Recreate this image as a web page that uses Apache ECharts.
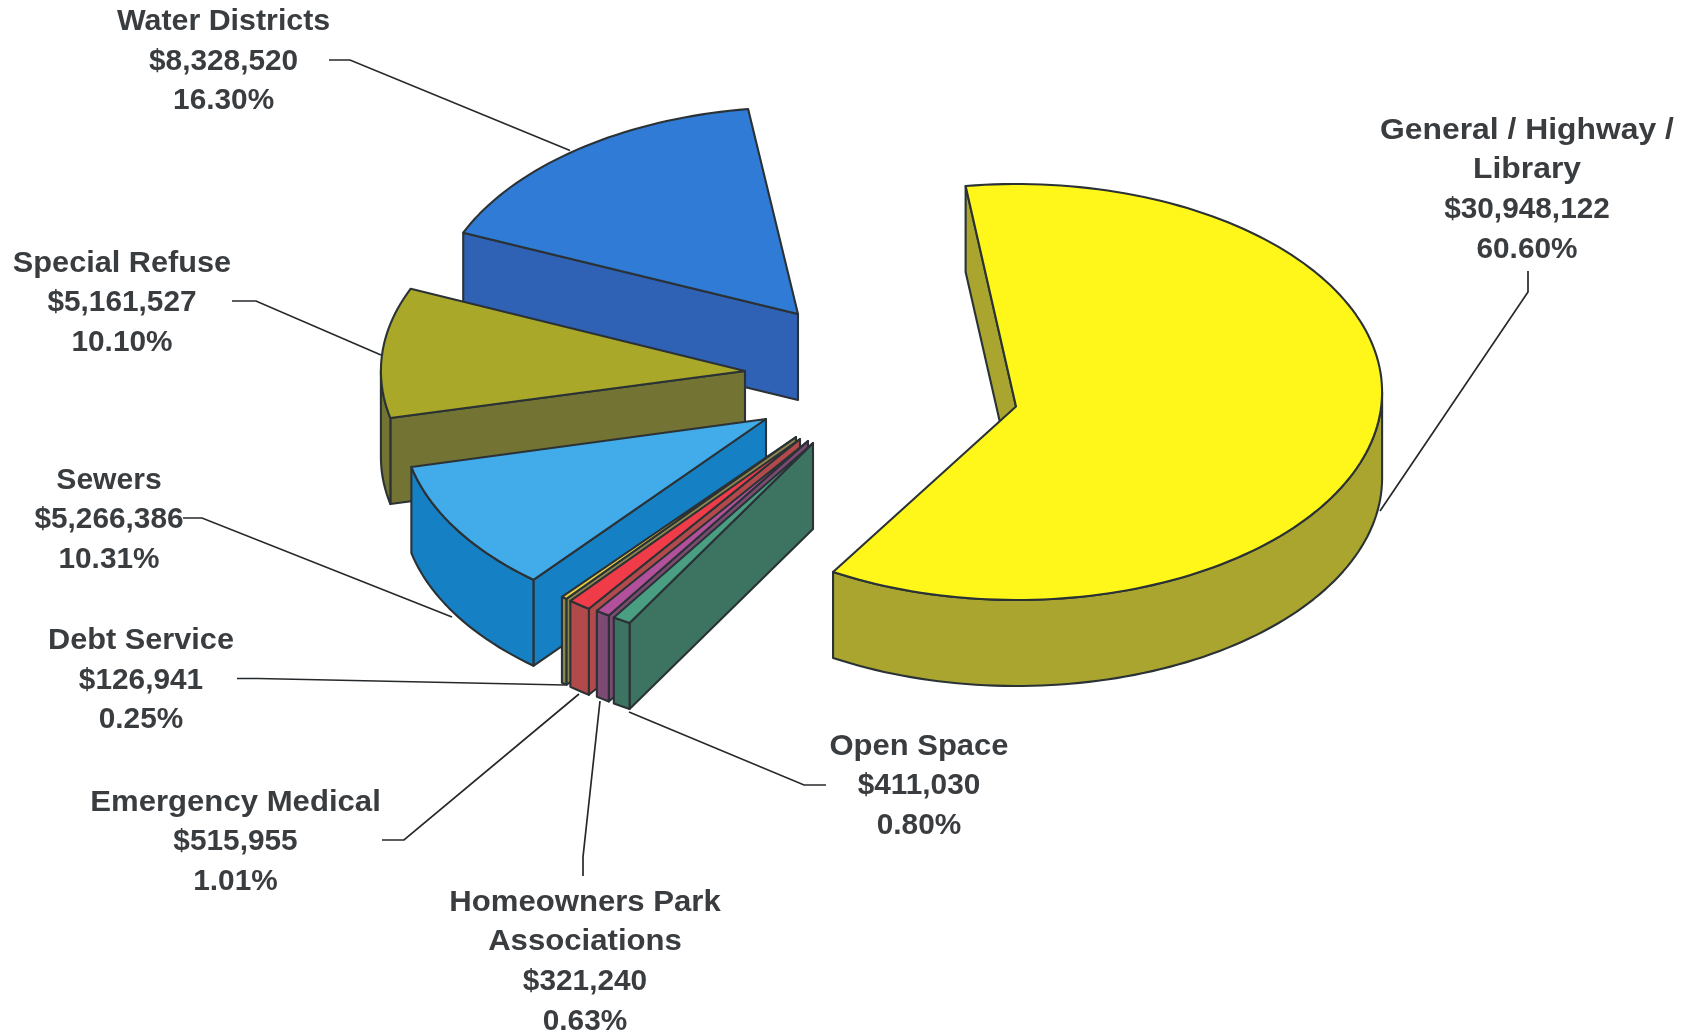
<!DOCTYPE html>
<html>
<head>
<meta charset="utf-8">
<style>html,body{margin:0;padding:0;background:#fff}#chart{width:1686px;height:1033px}</style>
<script src="https://cdn.jsdelivr.net/npm/echarts@6/dist/echarts.min.js"></script>
</head>
<body>
<div id="chart"></div>
<script>
// Budget shares by fund, clockwise from the largest slice.
const categories = ['General / Highway /\nLibrary', 'Open Space', 'Homeowners Park\nAssociations',
  'Emergency Medical', 'Debt Service', 'Sewers', 'Special Refuse', 'Water Districts'];
const amounts = [30948122, 411030, 321240, 515955, 126941, 5266386, 5161527, 8328520];
const percents = ['60.60%', '0.80%', '0.63%', '1.01%', '0.25%', '10.31%', '10.10%', '16.30%'];

// Colours: top face, then the darker side wall.
const topColors = ['#FFF71A', '#4A9F82', '#B2509C', '#F03C48', '#E8D040', '#42ABEA', '#A9A828', '#2F7BD6'];
const wallColors = ['#A9A52E', '#3C7361', '#7C4A72', '#B24A4C', '#8C8850', '#1580C4', '#737334', '#2F62B4'];

// Pie projection: ellipse radii, extrusion depth and the angle of the first slice.
const RX = 365.6, RY = 208, DEPTH = 86, START_DEG = -8;
// Exploded position of each slice: centre of its ellipse and its inner point.
const centres = [[1016.5, 392], [813, 443], [808, 441], [800, 439], [796, 437], [767.5, 420], [746.5, 371], [799, 315]];
const hubs = [[1016, 406.5], [813, 443], [808, 441], [800, 439], [796, 437], [766, 419], [745, 371], [798, 314]];
// Label anchor (centre of the text block), horizontal stretch of the name
// lines, and leader polyline for each slice.
const labelAnchors = [[1527, 190], [919, 786], [585, 962], [235.5, 842], [141, 680.5], [109, 520], [122, 303], [223.6, 61.5]];
const nameStretch = [1.08, 1.05, 1.055, 1.055, 1.04, 1.02, 1.04, 1.03];
const leaders = [
  [[1528, 271], [1528, 292], [1380, 511]],
  [[826, 785], [804, 785], [629, 712]],
  [[583, 876], [583, 857], [600, 701]],
  [[382, 840], [404, 840], [579, 694]],
  [[237, 678.5], [258, 678.5], [565, 685]],
  [[183, 518], [202, 518], [452, 617]],
  [[232, 301], [256, 301], [381, 355]],
  [[329, 60], [350, 60], [570, 150.5]]
];

const OUTLINE = '#2B3236';
const LINE_STEP = 39.6;
const total = amounts.reduce((a, b) => a + b, 0);
const startAngles = [];
amounts.reduce((acc, v) => { startAngles.push(acc); return acc + v / total * 360; }, START_DEG);

const rad = d => d * Math.PI / 180;
const rim = (c, deg, drop) => [c[0] + RX * Math.sin(rad(deg)), c[1] - RY * Math.cos(rad(deg)) + (drop || 0)];

function arcPoints(c, from, to, drop) {
  const pts = [];
  const n = Math.max(2, Math.ceil((to - from) / 1.5));
  for (let i = 0; i <= n; i++) pts.push(rim(c, from + (to - from) * i / n, drop));
  return pts;
}

function poly(points, fill) {
  return {
    type: 'polygon',
    shape: { points },
    style: { fill, stroke: OUTLINE, lineWidth: 2.1, lineJoin: 'round' }
  };
}

// One extruded slice: visible cut faces, front of the rim, then the top.
function renderSlice(params, api) {
  const i = api.value(0);
  const sweep = api.value(1) / total * 360;
  const a0 = startAngles[i], a1 = a0 + sweep;
  const c = centres[i], hub = hubs[i];
  const wall = wallColors[i];
  const children = [];
  const hubLow = [hub[0], hub[1] + DEPTH];

  if (Math.sin(rad(a0)) < 0) {
    children.push(poly([hub, rim(c, a0), rim(c, a0, DEPTH), hubLow], wall));
  }
  if (Math.sin(rad(a1)) > 0) {
    children.push(poly([hub, rim(c, a1), rim(c, a1, DEPTH), hubLow], wall));
  }
  const w0 = Math.max(a0, 90), w1 = Math.min(a1, 270);
  if (w1 > w0) {
    const upper = arcPoints(c, w0, w1, 0);
    const lower = arcPoints(c, w0, w1, DEPTH).reverse();
    children.push(poly(upper.concat(lower), wall));
  }
  children.push(poly([hub].concat(arcPoints(c, a0, a1, 0)), topColors[i]));
  return { type: 'group', children };
}

function renderLeader(params, api) {
  return {
    type: 'polyline',
    shape: { points: leaders[api.value(0)] },
    style: { fill: null, stroke: '#26292C', lineWidth: 1.7 }
  };
}

// Name lines are stretched a little; amount and percent lines keep their natural width.
function renderLabel(params, api) {
  const i = api.value(0);
  const names = categories[i].split('\n');
  const lines = names.concat(['$' + api.value(1).toLocaleString('en-US'), percents[i]]);
  const children = lines.map((text, k) => ({
    type: 'text',
    x: labelAnchors[i][0],
    y: labelAnchors[i][1] + (k - (lines.length - 1) / 2) * LINE_STEP,
    scaleX: k < names.length ? nameStretch[i] : 1.01,
    style: {
      x: 0,
      y: 0,
      text,
      fill: '#3A3D40',
      font: 'bold 29.5px "Liberation Sans", Arial, sans-serif',
      align: 'center',
      verticalAlign: 'middle'
    }
  }));
  return { type: 'group', children };
}

const rows = amounts.map((v, i) => [i, v]);
const chart = echarts.init(document.getElementById('chart'), null, { renderer: 'canvas' });
chart.setOption({
  animation: false,
  backgroundColor: '#fff',
  tooltip: { show: false },
  series: [
    { type: 'custom', coordinateSystem: 'none', silent: true, z: 1, renderItem: renderLeader, data: rows },
    // Painted back to front, so the largest slice comes last.
    { type: 'custom', coordinateSystem: 'none', silent: true, z: 2, renderItem: renderSlice, data: rows.slice().reverse() },
    { type: 'custom', coordinateSystem: 'none', silent: true, z: 3, renderItem: renderLabel, data: rows }
  ]
});
</script>
</body>
</html>
